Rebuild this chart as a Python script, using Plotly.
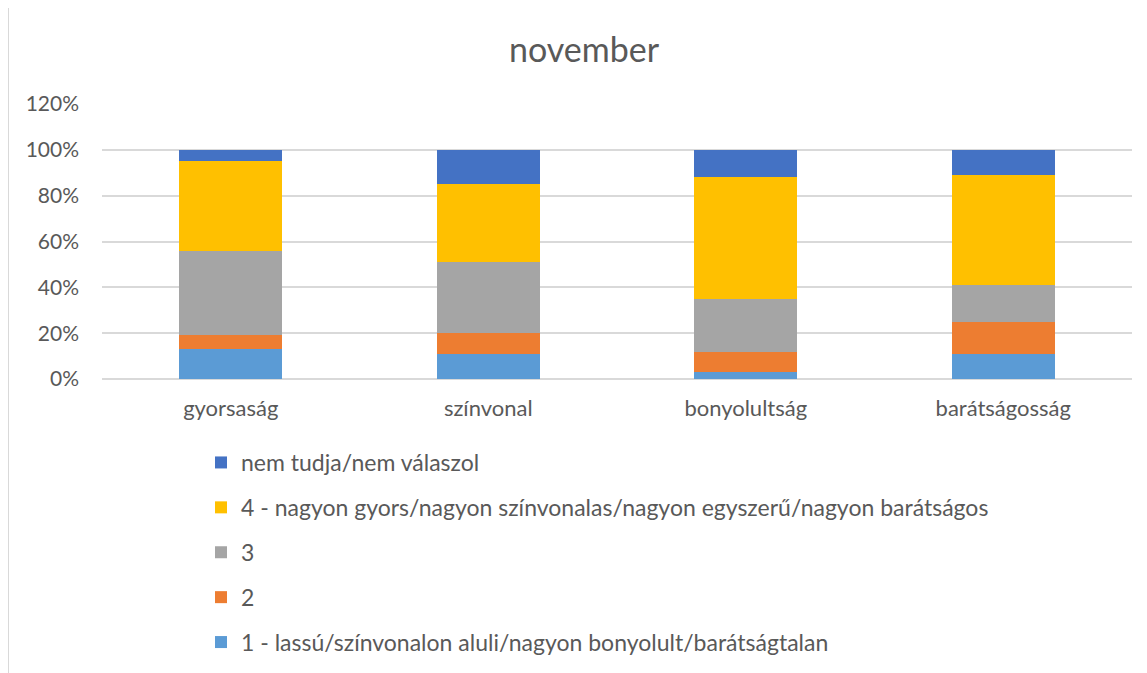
import plotly.graph_objects as go

categories = ["gyorsaság", "színvonal", "bonyolultság", "barátságosság"]
series_names = [
    "1 - lassú/színvonalon aluli/nagyon bonyolult/barátságtalan",
    "2",
    "3",
    "4 - nagyon gyors/nagyon színvonalas/nagyon egyszerű/nagyon barátságos",
    "nem tudja/nem válaszol",
]
v1 = [0.13, 0.11, 0.03, 0.11]
v2 = [0.06, 0.09, 0.09, 0.14]
v3 = [0.37, 0.31, 0.23, 0.16]
v4 = [0.39, 0.34, 0.53, 0.48]
v5 = [0.05, 0.15, 0.12, 0.11]
values = [v1, v2, v3, v4, v5]
colors = ["#5B9BD5", "#ED7D31", "#A5A5A5", "#FFC000", "#4472C4"]
tick_vals = [0, 0.2, 0.4, 0.6, 0.8, 1.0, 1.2]
tick_text = ["0%", "20%", "40%", "60%", "80%", "100%", "120%"]

FONT = "Lato, 'Open Sans', sans-serif"
OFF = 8  # page body margin offset
W, H = 1147 - OFF, 673 - OFF
L, R, T, B = 102 - OFF, 1132 - OFF, 104 - OFF, 379 - OFF

fig = go.Figure()
n = len(series_names)
for i, (name, vals, col) in enumerate(zip(series_names, values, colors)):
    fig.add_trace(go.Bar(
        x=categories, y=vals, name=name, legendgroup=name,
        legendrank=n - i,
        marker=dict(color=col, line=dict(width=0)),
    ))

def px_x(p):
    return (p - OFF - L) / (R - L)

def px_y(p):
    return (B - (p - OFF)) / (B - T)

fig.add_shape(type="rect", xref="paper", yref="paper",
              x0=px_x(8), x1=px_x(1170), y0=px_y(5), y1=px_y(720),
              line=dict(color="#D9D9D9", width=2), fillcolor="rgba(0,0,0,0)", layer="below")

fig.update_layout(
    width=W, height=H,
    barmode="stack", bargap=0.6,
    paper_bgcolor="white", plot_bgcolor="white",
    margin=dict(l=L, r=W - R, t=T, b=H - B, autoexpand=False),
    title=dict(text="november", x=px_x(584), xref="paper", xanchor="center",
               y=1 - (50 - OFF) / H, yanchor="middle",
               font=dict(family=FONT, size=34, color="#595959")),
    font=dict(family=FONT, size=22, color="#595959"),
    showlegend=True,
    legend=dict(
        traceorder="grouped", tracegroupgap=12,
        orientation="v",
        x=px_x(201), xanchor="left",
        y=px_y(441), yanchor="top",
        font=dict(family=FONT, size=23, color="#595959"),
        itemclick=False, itemdoubleclick=False,
    ),
    xaxis=dict(showgrid=False, showline=False, ticks="", tickangle=0,
               ticklabelstandoff=14,
               tickfont=dict(size=22, color="#595959")),
    yaxis=dict(range=[0, 1.2], tickvals=tick_vals, ticktext=tick_text,
               showgrid=True, gridcolor="#D9D9D9", gridwidth=1.5,
               zeroline=True, zerolinecolor="#D9D9D9", zerolinewidth=1.5,
               showline=False, ticks="", ticklabelstandoff=22,
               tickfont=dict(size=21, color="#595959")),
)

fig.write_html("out.html")
